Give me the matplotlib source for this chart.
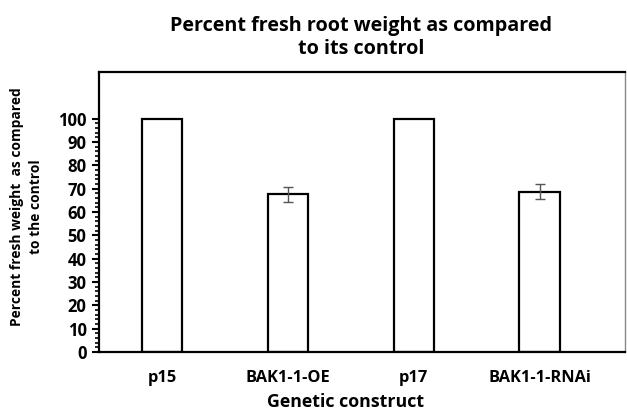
import matplotlib.pyplot as plt

plt.rcParams['font.family'] = ['Open Sans', 'DejaVu Sans']

constructs = ['p15', 'BAK1-1-OE', 'p17', 'BAK1-1-RNAi']
percent = [100, 67.6, 100, 68.8]
errors = [0, 3.2, 0, 3.4]

fig = plt.figure(figsize=(6.27, 4.17), dpi=100)
ax = fig.add_axes([0.158, 0.156, 0.839, 0.671])

x = list(range(len(constructs)))
ax.bar(x, percent, width=0.32, color='white', edgecolor='black', linewidth=1.6)
ax.errorbar([x[1], x[3]], [percent[1], percent[3]], yerr=[errors[1], errors[3]],
            fmt='none', ecolor='#555555', elinewidth=1, capsize=3.5, capthick=1)

ax.set_xlim(-0.5, 3.68)
ax.set_ylim(0, 120)
ax.set_yticks(range(0, 101, 10))
ax.set_yticks([v for v in range(0, 101, 2) if v % 10], minor=True)
ax.tick_params(axis='y', which='major', direction='out', length=5, width=1.5,
               labelsize=12, pad=4)
ax.tick_params(axis='y', which='minor', direction='out', length=3, width=1.2)
ax.set_xticks(x)
ax.set_xticklabels(constructs, fontweight='bold', fontsize=11.8)
ax.tick_params(axis='x', length=0, pad=13)
for lab in ax.get_yticklabels():
    lab.set_fontweight('bold')

for side in ['left', 'top', 'bottom']:
    ax.spines[side].set_linewidth(1.6)
ax.spines['right'].set_linewidth(1.0)
ax.spines['right'].set_color('#888888')

ax.set_xlabel('Genetic construct', fontweight='bold', fontsize=12.8)
ax.xaxis.set_label_coords(0.468, -0.145)
ax.set_ylabel('Percent fresh weight  as compared\nto the control', fontweight='bold',
              fontsize=9.9, linespacing=1.5)
ax.yaxis.set_label_coords(-0.106, 0.52)
fig.text(0.576, 0.909, 'Percent fresh root weight as compared\nto its control',
         ha='center', va='center', fontweight='bold', fontsize=14.2, linespacing=1.2)

fig.savefig('out.png', dpi=100)
